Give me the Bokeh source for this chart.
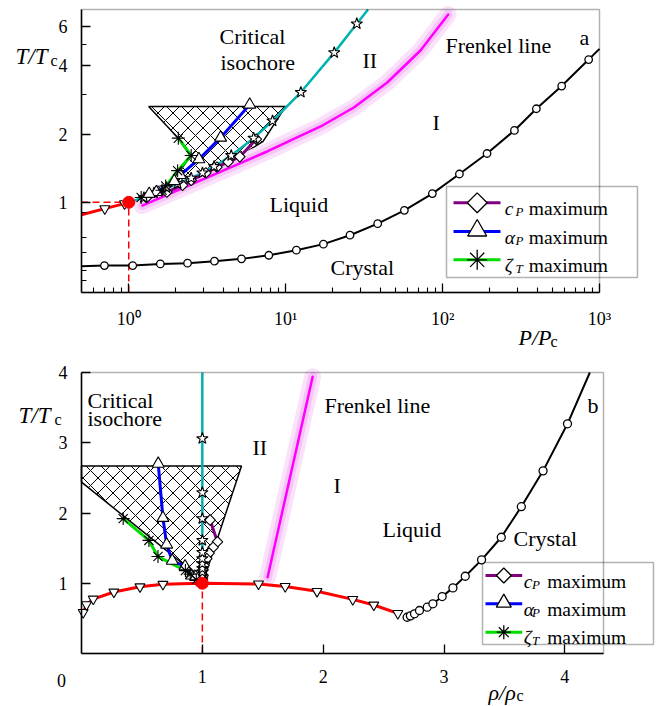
import math
import numpy as np
from bokeh.plotting import figure
from bokeh.models import Range1d, LinearScale, Label, FixedTicker, BoxAnnotation
from bokeh.layouts import column
from bokeh.embed import file_html
from bokeh.resources import INLINE

# ---------------- panel (a): P/Pc - T/Tc ----------------
crit_P, crit_T = 1.0, 1.0

melt_P_a = [0.70, 1.06, 1.59, 2.37, 3.52, 5.23, 7.81, 11.7, 17.4, 25.7, 38.6, 57.1,
            86.1, 128.0, 192.0, 287.0, 396.0, 574.0, 853.0]
melt_T_a = [0.526, 0.526, 0.535, 0.539, 0.550, 0.563, 0.584, 0.615, 0.654, 0.716, 0.805,
            0.922, 1.093, 1.334, 1.643, 2.077, 2.589, 3.26, 4.27]
melt_ends_P_a = [0.5, 1000.0]
melt_ends_T_a = [0.522, 4.76]

boil_P_a = [0.5, 0.704, 0.94, 1.0]
boil_T_a = [0.882, 0.938, 0.987, 1.0]
boil_mark_P_a = [0.704, 0.94]
boil_mark_T_a = [0.938, 0.987]

iso_T = [1.05, 1.10, 1.16, 1.21, 1.28, 1.35, 1.44, 1.61, 1.92, 2.29, 3.06, 4.58, 6.14]
iso_P_a = [1.25, 1.45, 1.74, 2.05, 2.5, 2.95, 3.5, 4.5, 6.25, 8.25, 12.5, 20.4, 28.4]
iso_end_P_a = 33.5

frenkel_P_a = [1.22, 2.87, 7.63, 16.7, 27.2, 44.4, 72.3, 108.6]
frenkel_T_a = [0.968, 1.249, 1.677, 2.162, 2.622, 3.381, 4.68, 6.75]

zeta_T = [1.92, 1.61, 1.38, 1.18, 1.13, 1.05]
zeta_P_a = [2.07, 2.50, 2.05, 1.72, 1.63, 1.20]

alpha_T = [2.70, 1.93, 1.55, 1.32, 1.24, 1.11, 1.09]
alpha_P_a = [5.9, 3.85, 2.8, 2.13, 1.95, 1.5, 1.35]

cp_T = [1.90, 1.59, 1.51, 1.43, 1.35, 1.25, 1.19, 1.11, 1.05]
cp_P_a = [6.5, 5.1, 4.3, 3.65, 3.1, 2.5, 2.2, 1.75, 1.3]

hatch_P_a = [1.34, 2.07, 2.47, 2.07, 1.66, 1.37, 2.35, 3.16, 4.98, 7.18, 10.0]
hatch_T_a = [2.65, 1.92, 1.60, 1.34, 1.15, 1.085, 1.22, 1.36, 1.58, 1.86, 2.65]

# ---------------- panel (b): rho/rhoc - T/Tc ----------------
boil_rho_b = [0.014, 0.041, 0.097, 0.268, 0.484, 0.674, 1.0, 1.465, 1.686, 1.949, 2.245, 2.419, 2.618]
boil_T_b = [0.585, 0.695, 0.775, 0.875, 0.95, 0.985, 1.0, 0.99, 0.955, 0.885, 0.77, 0.69, 0.57]

melt_rho_b = [2.695, 2.722, 2.756, 2.797, 2.861, 2.908, 2.985, 3.074, 3.176, 3.311, 3.474,
              3.640, 3.820, 4.022]
melt_T_b = [0.516, 0.536, 0.565, 0.612, 0.659, 0.707, 0.811, 0.934, 1.10, 1.333, 1.655,
            2.09, 2.60, 3.27]
melt_end_rho_b = 4.207

frenkel_rho_b = [1.54, 1.913]
frenkel_T_b = [1.086, 3.94]

zeta_rho_b = [0.345, 0.558, 0.633, 0.86, 0.90, 0.95]
alpha_rho_b = [0.635, 0.674, 0.705, 0.751, 0.857, 0.910, 0.945]
cp_rho_b = [1.064, 1.125, 1.089, 1.056, 1.037, 1.014, 1.006, 1.006, 1.0]
crit_rho = 1.0

hatch_rho_b = [0.0, 1.324, 1.01, 0.0]
hatch_T_b = [2.67, 2.67, 1.04, 2.44]

# axis limits of the two panels
XLIM_A, YLIM_A = (0.5, 1000.0), (0.4, 7.1)
XLIM_B, YLIM_B = (0.0, 4.32), (0.0, 4.0)

# ---------------- styling ----------------
SERIF = "Liberation Serif"
RED, CYAN, PURPLE, BLUE, GREEN, MAGENTA = "#ff0000", "#00b2b2", "#800080", "#0000ff", "#00dd00", "#ff00ff"
GLOW_OUT, GLOW_IN = "#fbe2fb", "#f6c4f6"

W, H_A, H_B = 658, 350, 356


def span_range(lim, lo_px, hi_px, total_px, log, downward):
    """Range covering the whole canvas so that lim lands on the pixel span [lo_px, hi_px]."""
    f = math.log10 if log else (lambda v: v)
    g = (lambda v: 10 ** v) if log else (lambda v: v)
    u0, u1 = f(lim[0]), f(lim[1])
    if downward:   # lo_px is the lower edge measured from the top of the canvas
        per = (u1 - u0) / (lo_px - hi_px)
        return Range1d(g(u0 - (total_px - lo_px) * per), g(u1 + hi_px * per))
    per = (u1 - u0) / (hi_px - lo_px)
    return Range1d(g(u0 - lo_px * per), g(u1 + (total_px - hi_px) * per))


def make_fig(width, height, box, x_type, y_type, xlim, ylim):
    l, r, t, b = box
    xr = span_range(xlim, l, r, width, x_type == "log", False)
    yr = span_range(ylim, b, t, height, y_type == "log", True)
    p = figure(width=width, height=height, x_axis_type=x_type, y_axis_type=y_type,
               x_range=xr, y_range=yr, output_backend="svg", toolbar_location=None,
               min_border=0, min_border_left=0, min_border_right=0,
               min_border_top=0, min_border_bottom=0)
    # canvas-pixel coordinates (y downward) for texts and the legend
    p.extra_x_ranges = {"px": Range1d(0, width)}
    p.extra_y_ranges = {"px": Range1d(height, 0)}
    p.extra_x_scales = {"px": LinearScale()}
    p.extra_y_scales = {"px": LinearScale()}
    p.xgrid.grid_line_color = None
    p.ygrid.grid_line_color = None
    p.outline_line_color = None
    p.background_fill_color = "white"
    p.border_fill_color = "white"

    xa, ya = p.xaxis[0], p.yaxis[0]
    xa.fixed_location = ylim[0]
    xa.bounds = xlim
    ya.fixed_location = xlim[0]
    ya.bounds = ylim
    for ax in (xa, ya):
        ax.major_tick_in = 9
        ax.major_tick_out = 0
        ax.minor_tick_in = 5
        ax.minor_tick_out = 0
        ax.major_tick_line_width = 1.3
        ax.minor_tick_line_width = 1.1
        ax.axis_line_width = 1.5
        ax.major_label_text_font = SERIF
        ax.major_label_text_font_size = "18px"
        ax.major_label_text_color = "black"
    xa.major_label_standoff = 16
    ya.major_label_standoff = 14
    # panel frame
    p.add_layout(BoxAnnotation(left=xlim[0], right=xlim[1], bottom=ylim[0], top=ylim[1],
                               fill_color=None, line_color="black", line_width=1.5))
    return p


def txt(p, s, X, Y, size="22px", style="normal", align="left", baseline="alphabetic"):
    p.add_layout(Label(x=X, y=Y, x_range_name="px", y_range_name="px", text=s,
                       text_font=SERIF, text_font_size=size, text_font_style=style,
                       text_align=align, text_baseline=baseline, text_color="black"))


def legend(p, box, rows, line_x, mark_x, sym_x, sub_x, word_x, msize):
    l, r, t, b = box
    p.add_layout(BoxAnnotation(left=l, right=r, top=t, bottom=b, x_range_name="px",
                               y_range_name="px", fill_color="white", fill_alpha=1.0,
                               line_color="black", line_width=1.5, level="underlay"))
    specs = [(PURPLE, "diamond", "c", "P"), (BLUE, "triangle", "α", "P"), (GREEN, "asterisk", "ζ", "T")]
    for yc, (col, mk, sym, sub) in zip(rows, specs):
        p.line(line_x, [yc, yc], x_range_name="px", y_range_name="px", line_color=col, line_width=3)
        if mk == "diamond":
            p.scatter([mark_x], [yc], marker="square", angle=np.pi / 4, size=msize[0],
                      x_range_name="px", y_range_name="px",
                      fill_color="white", line_color="black", line_width=1.3)
        elif mk == "triangle":
            p.scatter([mark_x], [yc - 1], marker="triangle", size=msize[1],
                      x_range_name="px", y_range_name="px",
                      fill_color="white", line_color="black", line_width=1.3)
        else:
            p.scatter([mark_x], [yc], marker="asterisk", size=msize[2],
                      x_range_name="px", y_range_name="px", line_color="black", line_width=1.3)
        txt(p, sym, sym_x, yc + 5.5, size="19.5px", style="italic")
        txt(p, sub, sub_x, yc + 8.5, size="13px", style="italic")
        txt(p, "maximum", word_x, yc + 5.5, size="19.5px")


def draw_phase(p, d, c_size):
    # region of thermodynamic anomalies
    p.patch(d["hx"], d["ht"], fill_color="white", hatch_pattern="x", hatch_color="black",
            hatch_weight=1.0, hatch_scale=15, line_color="black", line_width=1.5)
    # Frenkel line with its glow
    p.line(d["fx"], d["ft"], line_color=GLOW_OUT, line_width=17, line_cap="round", line_join="round")
    p.line(d["fx"], d["ft"], line_color=GLOW_IN, line_width=9, line_cap="round", line_join="round")
    p.line(d["fx"], d["ft"], line_color=MAGENTA, line_width=2.5, line_cap="round", line_join="round")
    # melting line
    p.line(d["mlx"], d["mlt"], line_color="black", line_width=2)
    p.scatter(d["mx"], d["mt"], marker="circle", size=c_size, fill_color="white",
              line_color="black", line_width=1.3)
    # liquid-gas coexistence
    p.line(d["bx"], d["bt"], line_color=RED, line_width=3)
    p.scatter(d["bmx"], d["bmt"], marker="inverted_triangle", size=10, fill_color="white",
              line_color="black", line_width=1.1)
    # critical isochore
    p.line(d["ilx"], d["ilt"], line_color=CYAN, line_width=2.5)
    # lines of maxima
    p.line(d["zx"], zeta_T, line_color=GREEN, line_width=3)
    p.line(d["ax"], alpha_T, line_color=BLUE, line_width=3)
    p.line(d["cx"], cp_T, line_color=PURPLE, line_width=3)
    p.scatter(d["cx"], cp_T, marker="square", angle=np.pi / 4, size=7.5, fill_color="white",
              line_color="black", line_width=1.1)
    p.scatter(d["ix"], d["it"], marker="star", size=12, fill_color="white",
              line_color="black", line_width=1.1)
    p.scatter(d["ax"], alpha_T, marker="triangle", size=12, fill_color="white",
              line_color="black", line_width=1.1)
    p.scatter(d["zx"], zeta_T, marker="asterisk", size=13, line_color="black", line_width=1.1)


# ---------------- figure (a) ----------------
p1 = make_fig(W, H_A, (81, 599, 9, 292), "log", "log", XLIM_A, YLIM_A)
p1.xaxis[0].ticker = FixedTicker(
    ticks=[1, 10, 100, 1000],
    minor_ticks=[0.6, 0.7, 0.8, 0.9] + [m * d for d in (1, 10, 100) for m in range(2, 10)])
p1.xaxis[0].major_label_overrides = {1: "10⁰", 10: "10¹", 100: "10²", 1000: "10³"}
p1.yaxis[0].ticker = FixedTicker(ticks=[1, 2, 4, 6], minor_ticks=[0.45, 0.5, 0.6, 0.7, 0.9, 3, 5])
p1.yaxis[0].major_label_overrides = {1: "1", 2: "2", 4: "4", 6: "6"}

# guide lines through the critical point
p1.line([XLIM_A[0], crit_P], [crit_T, crit_T], line_color=RED, line_width=1.5, line_dash="7 4")
p1.line([crit_P, crit_P], [YLIM_A[0], crit_T], line_color=RED, line_width=1.5, line_dash="7 4")

draw_phase(p1, dict(
    mx=melt_P_a, mt=melt_T_a,
    mlx=[melt_ends_P_a[0]] + melt_P_a + [melt_ends_P_a[1]],
    mlt=[melt_ends_T_a[0]] + melt_T_a + [melt_ends_T_a[1]],
    bx=boil_P_a, bt=boil_T_a, bmx=boil_mark_P_a, bmt=boil_mark_T_a,
    ix=iso_P_a, it=iso_T,
    ilx=[crit_P] + iso_P_a + [iso_end_P_a], ilt=[crit_T] + iso_T + [YLIM_A[1]],
    fx=frenkel_P_a, ft=frenkel_T_a, zx=zeta_P_a, ax=alpha_P_a, cx=cp_P_a,
    hx=hatch_P_a, ht=hatch_T_a), 7.5)
p1.scatter([crit_P], [crit_T], marker="circle", size=12, fill_color=RED, line_color=RED)

txt(p1, "Critical", 219, 36)
txt(p1, "isochore", 220, 62)
txt(p1, "II", 362, 60)
txt(p1, "Frenkel line", 445, 45)
txt(p1, "a", 579, 37)
txt(p1, "I", 432, 122)
txt(p1, "Liquid", 269, 204)
txt(p1, "Crystal", 330, 267)
txt(p1, "T/T", 15, 56, size="23px", style="italic")
txt(p1, "c", 50, 60, size="16px")
txt(p1, "P/P", 518, 337, size="22px", style="italic")
txt(p1, "c", 550, 341, size="16px")
legend(p1, (446, 637, 186, 277), [202.3, 231, 259.3], [453, 500], 476.7, 504.3, 515, 528.3,
       (14, 19, 20))

# ---------------- figure (b) ----------------
p2 = make_fig(W, H_B, (81, 603, 22, 303), "linear", "linear", XLIM_B, YLIM_B)
p2.xaxis[0].ticker = FixedTicker(ticks=[1, 2, 3, 4])
p2.yaxis[0].ticker = FixedTicker(ticks=[1, 2, 3, 4])

iso_T_b = [t for t in iso_T if t <= YLIM_B[1]]
iso_rho_b = [crit_rho] * len(iso_T_b)

p2.line([crit_rho, crit_rho], [YLIM_B[0], crit_T], line_color=RED, line_width=1.5, line_dash="7 4")
draw_phase(p2, dict(
    mx=melt_rho_b, mt=melt_T_b,
    mlx=melt_rho_b + [melt_end_rho_b], mlt=melt_T_b + [YLIM_B[1]],
    bx=boil_rho_b, bt=boil_T_b,
    bmx=boil_rho_b[:6] + boil_rho_b[7:], bmt=boil_T_b[:6] + boil_T_b[7:],
    ix=iso_rho_b, it=iso_T_b,
    ilx=[crit_rho] + iso_rho_b + [crit_rho], ilt=[crit_T] + iso_T_b + [YLIM_B[1]],
    fx=frenkel_rho_b, ft=frenkel_T_b, zx=zeta_rho_b, ax=alpha_rho_b, cx=cp_rho_b,
    hx=hatch_rho_b, ht=hatch_T_b), 8)
p2.scatter([crit_rho], [crit_T], marker="circle", size=12, fill_color=RED, line_color=RED)

txt(p2, "Critical", 87, 50)
txt(p2, "isochore", 87, 68)
txt(p2, "II", 252, 97)
txt(p2, "Frenkel line", 324, 55)
txt(p2, "b", 587, 55)
txt(p2, "I", 333, 135)
txt(p2, "Liquid", 382, 179)
txt(p2, "Crystal", 513, 188)
txt(p2, "T/T", 18, 65, size="23px", style="italic")
txt(p2, "c", 54, 69, size="16px")
txt(p2, "0", 61, 330, size="18px", align="center", baseline="middle")
txt(p2, "ρ/ρ", 488, 342, size="22px", style="italic")
txt(p2, "c", 516, 345, size="16px")
legend(p2, (482, 653, 212, 294), [225, 253.3, 281.7], [485, 521.7], 503.3, 523.3, 531.5, 546.7,
       (10.5, 15, 14))

layout = column(p1, p2)
open("out.html", "w").write(file_html(layout, INLINE))
